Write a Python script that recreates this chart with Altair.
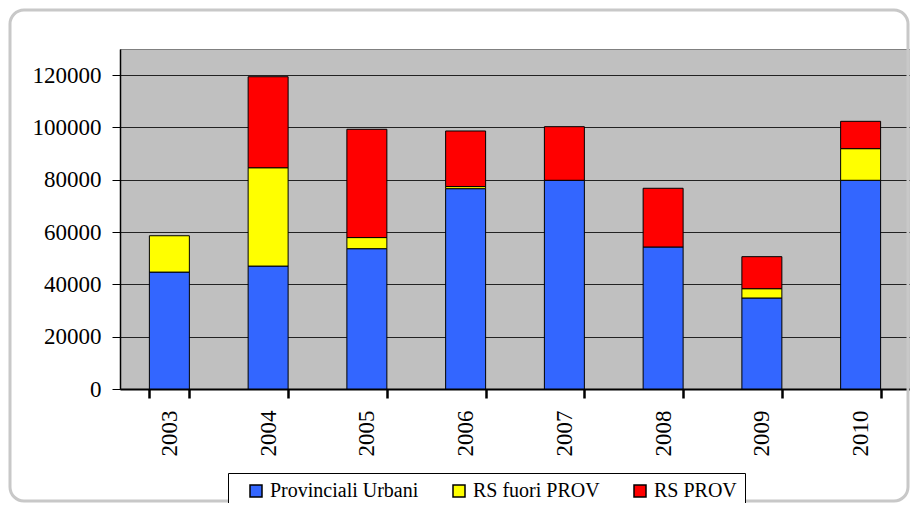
import altair as alt
import pandas as pd

years = ["2003", "2004", "2005", "2006", "2007", "2008", "2009", "2010"]
series = ["Provinciali Urbani", "RS fuori PROV", "RS PROV"]
prov_urbani = [44700, 47000, 53650, 76600, 79800, 54300, 34800, 79800]
rs_fuori = [13900, 37600, 4250, 800, 0, 0, 3550, 12100]
rs_prov = [0, 34800, 41400, 21250, 20500, 22450, 12250, 10450]
colors = ["#3366FF", "#FFFF00", "#FF0000"]
y_ticks = [0, 20000, 40000, 60000, 80000, 100000, 120000]

rows = []
for i, yr in enumerate(years):
    for k, (s, vals) in enumerate(zip(series, [prov_urbani, rs_fuori, rs_prov])):
        if vals[i] > 0:
            rows.append({"year": yr, "series": s, "value": vals[i], "ord": k})
df = pd.DataFrame(rows)

FONT = "Liberation Serif"

frame = alt.Chart(pd.DataFrame({"a": [0]})).mark_rect(
    fill=None, stroke="#c8c8c8", strokeWidth=3, cornerRadius=14
).encode(
    x=alt.value(-110), x2=alt.value(788), y=alt.value(-39), y2=alt.value(452)
)

bars = alt.Chart(df).mark_bar(stroke="black", strokeWidth=1).encode(
    x=alt.X(
        "year:N",
        sort=years,
        scale=alt.Scale(paddingInner=0.595, paddingOuter=0.2975),
        axis=alt.Axis(
            title=None, labelAngle=-90, tickBand="extent", grid=False,
            domainColor="black", domainWidth=2, tickColor="black", tickWidth=2.5,
            tickSize=9, labelFont=FONT, labelFontSize=23, labelColor="black",
            labelPadding=12,
        ),
    ),
    y=alt.Y(
        "value:Q",
        stack="zero",
        scale=alt.Scale(domain=[0, 130000], nice=False),
        axis=alt.Axis(
            title=None, values=y_ticks, format="d", grid=True, gridColor="#222222",
            gridWidth=1, domainColor="black", domainWidth=1.5, tickColor="black",
            tickWidth=1, tickSize=8, labelFont=FONT, labelFontSize=23,
            labelColor="black", labelPadding=11,
        ),
    ),
    color=alt.Color(
        "series:N",
        scale=alt.Scale(domain=series, range=colors),
        legend=alt.Legend(
            title=None, orient="none", legendX=108, legendY=424,
            direction="horizontal", columns=3, strokeColor="black", fillColor="white",
            padding=8, symbolType="square", symbolSize=144, symbolStrokeColor="black",
            symbolStrokeWidth=1.5, symbolOpacity=1, labelFont=FONT, labelFontSize=20,
            labelColor="black", columnPadding=20, symbolOffset=10, labelOffset=4,
        ),
    ),
    order=alt.Order("ord:Q"),
)

chart = alt.layer(frame, bars).properties(
    width=790,
    height=340,
    autosize=alt.AutoSizeParams(type="none"),
    padding={"left": 112, "top": 41, "right": 0, "bottom": 114},
    background="white",
).configure(
    font=FONT, style={"guide-label": {"font": FONT}}
).configure_legend(labelFont=FONT).configure_axis(labelFont=FONT).configure_view(
    fill="#C0C0C0", stroke="#808080", strokeWidth=1
)

chart.save("out.html", embed_options={"renderer": "svg", "actions": False})
